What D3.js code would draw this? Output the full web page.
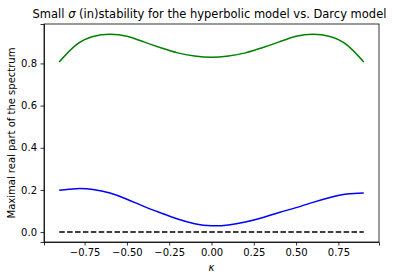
<!DOCTYPE html>
<html>
<head>
<meta charset="utf-8">
<script src="https://cdn.jsdelivr.net/npm/d3@7"></script>
<style>
  body { margin: 0; background: #fff; }
  svg text { font-family: "DejaVu Sans", sans-serif; fill: #000; }
  .tick text { font-size: 10px; }
  .domain, .tick line { stroke: #000; stroke-width: 0.8; }
</style>
</head>
<body>
<svg id="chart" width="404" height="280"></svg>
<script>
// kappa samples and the two spectra
const kappa = [-0.9, -0.8, -0.7, -0.6, -0.5, -0.4, -0.3, -0.2, -0.1, 0.0,
               0.1, 0.2, 0.3, 0.4, 0.5, 0.6, 0.7, 0.8, 0.9];
const hyperbolic = [0.807, 0.888, 0.928, 0.938, 0.929, 0.902, 0.874, 0.850, 0.835, 0.829,
                    0.835, 0.850, 0.874, 0.902, 0.929, 0.938, 0.928, 0.888, 0.807];
const darcy = [0.198, 0.206, 0.202, 0.185, 0.156, 0.122, 0.091, 0.062, 0.040, 0.030,
               0.034, 0.048, 0.068, 0.093, 0.116, 0.141, 0.164, 0.181, 0.186];
const zeroLine = kappa.map(() => 0);

const xTicks = [-0.75, -0.5, -0.25, 0, 0.25, 0.5, 0.75];
const yTicks = [0, 0.2, 0.4, 0.6, 0.8];

const svg = d3.select('#chart');
const m = { left: 44, right: 379, top: 24, bottom: 242 };

const x = d3.scaleLinear().domain([-0.99, 0.99]).range([m.left, m.right]);
const y = d3.scaleLinear().domain([-0.047, 0.987]).range([m.bottom, m.top]);

// frame
svg.append('rect')
  .attr('x', m.left).attr('y', m.top)
  .attr('width', m.right - m.left).attr('height', m.bottom - m.top)
  .attr('fill', 'none').attr('stroke', '#000').attr('stroke-width', 0.8);

svg.append('g')
  .attr('transform', `translate(0,${m.bottom})`)
  .call(d3.axisBottom(x).tickValues(xTicks).tickSize(3.5).tickPadding(3.5)
    .tickFormat(d => d3.format('.2f')(d).replace('-', '\u2212')));

svg.append('g')
  .attr('transform', `translate(${m.left},0)`)
  .call(d3.axisLeft(y).tickValues(yTicks).tickSize(3.5).tickPadding(3.5)
    .tickFormat(d3.format('.1f')));

const line = d3.line()
  .x((d, i) => x(kappa[i]))
  .y(d => y(d))
  .curve(d3.curveNatural);

svg.append('path').datum(hyperbolic)
  .attr('d', line).attr('fill', 'none')
  .attr('stroke', 'green').attr('stroke-width', 1.5);

svg.append('path').datum(darcy)
  .attr('d', line).attr('fill', 'none')
  .attr('stroke', 'blue').attr('stroke-width', 1.5);

svg.append('path').datum(zeroLine)
  .attr('d', line).attr('fill', 'none')
  .attr('stroke', '#000').attr('stroke-width', 1.5)
  .attr('stroke-dasharray', '5.5,2.4');

// title and labels
svg.append('text')
  .attr('x', (m.left + m.right) / 2 - 2).attr('y', 18)
  .attr('text-anchor', 'middle').style('font-size', '11.5px')
  .html('Small <tspan font-style="italic">\u03c3</tspan> (in)stability for the hyperbolic model vs. Darcy model');

svg.append('text')
  .attr('x', (m.left + m.right) / 2).attr('y', 271)
  .attr('text-anchor', 'middle').style('font-size', '10px')
  .style('font-style', 'italic')
  .text('\u03ba');

svg.append('text')
  .attr('transform', `translate(15,${(m.top + m.bottom) / 2}) rotate(-90)`)
  .attr('text-anchor', 'middle').style('font-size', '10px')
  .text('Maximal real part of the spectrum');
</script>
</body>
</html>
